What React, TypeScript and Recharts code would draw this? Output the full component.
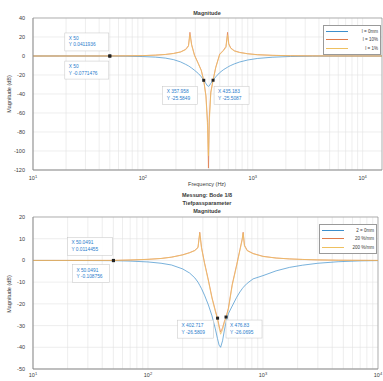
import {
  LineChart,
  Line,
  XAxis,
  YAxis,
  CartesianGrid,
  ReferenceDot,
  ReferenceArea,
  Legend,
} from "recharts";

const FONT = '"Liberation Sans", Arial, sans-serif';
const INK = "#3a3a3a";
const BLUE = "#3d8fcc";
const ORANGE = "#e07a4a";
const YELLOW = "#eec060";
const TIP_TEXT = "#2a7ccc";
const COLORS = [BLUE, ORANGE, YELLOW];

// ── top plot data ──
const TOP_FREQ = [
  10, 20, 30, 50, 70, 100, 130, 160, 190, 220, 245, 260, 268, 278, 295, 320, 340, 358, 375, 388, 395,
  402, 415, 435, 460, 500, 540, 570, 590, 605, 630, 680, 760, 900, 1100, 1500, 2200, 3500, 6000, 10000,
  15000,
];
const TOP_BLUE = [
  0, -0.01, -0.03, -0.077, -0.2, -0.6, -1.2, -2.2, -3.8, -6.2, -8.8, -10.4, -11.4, -12.7, -15, -18.5,
  -21.8, -25.6, -29, -31.5, -32, -31.4, -28.8, -25.5, -22, -17.5, -14.5, -12.8, -11.8, -11, -10, -8.3,
  -6.3, -4.2, -2.6, -1.3, -0.5, -0.15, -0.04, 0, 0,
];
const TOP_ORANGE = [
  0, 0.01, 0.02, 0.041, 0.15, 0.4, 0.9, 1.6, 2.7, 4.3, 7, 11, 25, 12, 1, -8, -15, -25.6, -42, -70, -118,
  -65, -38, -25.5, -12, 2, 6, 10, 25, 13, 8.5, 5.5, 3.8, 2.4, 1.4, 0.7, 0.3, 0.1, 0.03, 0, 0,
];
const TOP_YELLOW = [
  0, 0.01, 0.02, 0.04, 0.15, 0.4, 0.9, 1.6, 2.6, 4.1, 6.6, 10, 22, 11, 0.5, -8.5, -15.5, -26, -43, -75,
  -105, -70, -39, -26, -12.5, 1.5, 5.5, 9, 22, 12, 8, 5.2, 3.6, 2.3, 1.3, 0.7, 0.3, 0.1, 0.03, 0, 0,
];
const TOP_NAMES = ["l = 0mm", "l = 10%", "l = 1%"];
const TOP_Y_TICKS = [-120, -100, -80, -60, -40, -20, 0, 20, 40];

// ── bottom plot data ──
const BOT_FREQ = [
  10, 20, 30, 50, 70, 100, 130, 160, 200, 230, 255, 272, 282, 292, 310, 335, 360, 385, 402, 415, 428,
  445, 462, 477, 500, 540, 590, 630, 660, 672, 690, 730, 820, 1000, 1300, 1700, 2200, 3000, 4500, 7000,
  10000,
];
const BOT_BLUE = [
  0, -0.02, -0.05, -0.109, -0.3, -0.7, -1.3, -2.1, -3.9, -5.8, -8, -10, -11.5, -13, -16, -20.5, -25.5,
  -31.5, -36, -39, -40, -37, -32, -28.5, -24.5, -21, -17, -14.5, -13, -12.5, -11.8, -10.5, -8.5, -7,
  -4.8, -3.2, -2.2, -1.3, -0.6, -0.2, -0.08,
];
const BOT_ORANGE = [
  0, 0, 0.005, 0.011, 0.2, 0.5, 0.9, 1.5, 2.6, 3.6, 4.6, 6, 13, 6, -1, -9, -17, -23, -26.6, -30, -33, -31,
  -28, -26.1, -22, -11, -2, 5, 10, 13, 7, 4.6, 3.2, 1.9, 1.1, 0.7, 0.45, 0.25, 0.1, 0.04, 0,
];
const BOT_YELLOW = [
  0, 0, 0.005, 0.01, 0.2, 0.5, 0.9, 1.5, 2.5, 3.5, 4.5, 5.8, 12.5, 5.6, -1.4, -9.5, -17.5, -23.5, -27,
  -31, -34, -32, -28.5, -26.4, -22.5, -11.5, -2.5, 4.6, 9.5, 12.5, 6.6, 4.4, 3.1, 1.8, 1.1, 0.7, 0.45,
  0.25, 0.1, 0.04, 0,
];
const BOT_NAMES = ["2 = 0mm", "20 %/mm", "200 %/mm"];
const BOT_Y_TICKS = [-50, -40, -30, -20, -10, 0, 10, 20];

// ── data tips ──
const TOP_TIPS = [
  { f: 50, v: 0.041, lines: ["X 50", "Y 0.0411936"] },
  { f: 50, v: -0.077, lines: ["X 50", "Y -0.0771476"] },
  { f: 357.958, v: -25.5849, lines: ["X 357.958", "Y -25.5849"] },
  { f: 435.183, v: -25.5087, lines: ["X 435.183", "Y -25.5087"] },
];
const BOT_TIPS = [
  { f: 50.0491, v: 0.0114, lines: ["X 50.0491", "Y 0.0114455"] },
  { f: 50.0491, v: -0.109, lines: ["X 50.0491", "Y -0.108756"] },
  { f: 402.717, v: -26.5809, lines: ["X 402.717", "Y -26.5809"] },
  { f: 476.83, v: -26.0695, lines: ["X 476.83", "Y -26.0695"] },
];

const DECADES = [10, 100, 1000, 10000];
const MINOR = [1, 2, 3, 4, 5, 6, 7, 8, 9];
const logTicks = (max: number) =>
  DECADES.flatMap((d) => MINOR.map((m) => m * d)).filter((v) => v <= max);

const topRows = TOP_FREQ.map((f, i) => ({ f, a: TOP_BLUE[i], b: TOP_ORANGE[i], c: TOP_YELLOW[i] }));
const botRows = BOT_FREQ.map((f, i) => ({ f, a: BOT_BLUE[i], b: BOT_ORANGE[i], c: BOT_YELLOW[i] }));

function LogTick({ x, y, payload, off }: any) {
  const lg = Math.log10(payload.value);
  const e = Math.round(lg);
  if (Math.abs(lg - e) > 1e-6) return <g />;
  return (
    <text x={x} y={y + off} textAnchor="middle" fontSize={5.5} fill={INK} fontFamily={FONT}>
      10
      <tspan dy={-2.5} fontSize={4}>
        {e}
      </tspan>
    </text>
  );
}

function MatlabLegend({ names }: { names: string[] }) {
  return (
    <div
      style={{
        background: "#fff",
        border: "0.6px solid #9a9a9a",
        padding: "1px 2px",
        fontSize: 4.5,
        fontFamily: FONT,
        color: INK,
        width: 52,
      }}
    >
      {names.map((n, i) => (
        <div key={n} style={{ display: "flex", alignItems: "center", height: 8.5 }}>
          <span style={{ width: 22, height: 1, background: COLORS[i], marginRight: 3 }} />
          <span style={{ marginLeft: "auto" }}>{n}</span>
        </div>
      ))}
    </div>
  );
}

// data tip box drawn next to the marker
function tipShape(lines: string[], dx: number, dy: number, w: number) {
  return (props: any) => {
    const { cx, cy } = props;
    return (
      <g>
        <rect
          x={cx + dx}
          y={cy + dy}
          width={w}
          height={18}
          fill="#fff"
          fillOpacity={0.92}
          stroke="#c4c4c4"
          strokeWidth={0.5}
        />
        {lines.map((t, i) => (
          <text
            key={i}
            x={cx + dx + 4}
            y={cy + dy + 7 + i * 6.5}
            fontSize={4.8}
            fill={TIP_TEXT}
            fontFamily={FONT}
          >
            {t}
          </text>
        ))}
        <rect x={cx - 1.5} y={cy - 1.5} width={3} height={3} fill="#222" />
      </g>
    );
  };
}

const TOP_TIP_POS = [
  [-45, -23, 44],
  [-45, 5, 44],
  [-41, 6, 35],
  [1, 6, 35],
];
const BOT_TIP_POS = [
  [-46, -23, 45],
  [-41, 4, 37],
  [-40, 2, 36],
  [0, 3, 36],
];

function YLabel({ top }: { top: number }) {
  return (
    <div
      style={{
        position: "absolute",
        left: 9,
        top,
        transform: "translate(-50%, -50%) rotate(-90deg)",
        fontSize: 5.5,
        whiteSpace: "nowrap",
        color: INK,
        fontFamily: FONT,
      }}
    >
      Magnitude (dB)
    </div>
  );
}

function Title({ top, text }: { top: number; text: string }) {
  return (
    <div
      style={{
        position: "absolute",
        left: 207,
        top,
        transform: "translate(-50%, -50%)",
        fontSize: 5.5,
        fontWeight: 700,
        whiteSpace: "nowrap",
        color: INK,
        fontFamily: FONT,
      }}
    >
      {text}
    </div>
  );
}

function BodePanel({
  rows,
  names,
  yTicks,
  xMax,
  tips,
  tipPos,
  width,
  height,
  margin,
  xHeight,
  tickOff,
}: any) {
  const yMin = yTicks[0];
  const yMax = yTicks[yTicks.length - 1];
  return (
    <LineChart width={width} height={height} data={rows} margin={margin}>
      <CartesianGrid stroke="#e2e2e2" strokeWidth={0.6} />
      <XAxis
        dataKey="f"
        type="number"
        scale="log"
        domain={[10, xMax]}
        allowDataOverflow
        ticks={logTicks(xMax)}
        interval={0}
        tick={<LogTick off={tickOff} />}
        tickLine={false}
        axisLine={{ stroke: "#8a8a8a", strokeWidth: 0.6 }}
        height={xHeight}
      />
      <YAxis
        type="number"
        domain={[yMin, yMax]}
        allowDataOverflow
        ticks={yTicks}
        interval={0}
        tickLine={false}
        axisLine={{ stroke: "#8a8a8a", strokeWidth: 0.6 }}
        tick={{ fontSize: 5.5, fill: INK, fontFamily: FONT }}
        tickMargin={2}
        width={33}
      />
      <ReferenceArea
        x1={10}
        x2={xMax}
        y1={yMin}
        y2={yMax}
        fill="none"
        stroke="#8a8a8a"
        strokeWidth={0.6}
      />
      <Legend
        layout="vertical"
        align="center"
        verticalAlign="middle"
        wrapperStyle={{ top: margin.top + 7, right: margin.right + 1 }}
        content={() => <MatlabLegend names={names} />}
      />
      <Line dataKey="a" name={names[0]} stroke={BLUE} strokeWidth={0.7} dot={false} isAnimationActive={false} />
      <Line dataKey="b" name={names[1]} stroke={ORANGE} strokeWidth={0.7} dot={false} isAnimationActive={false} />
      <Line dataKey="c" name={names[2]} stroke={YELLOW} strokeWidth={0.7} dot={false} isAnimationActive={false} />
      {tips.map((t: any, i: number) => (
        <ReferenceDot
          key={i}
          x={t.f}
          y={t.v}
          r={1.5}
          shape={tipShape(t.lines, tipPos[i][0], tipPos[i][1], tipPos[i][2])}
        />
      ))}
    </LineChart>
  );
}

export default function App() {
  return (
    <div style={{ position: "relative", width: 383, height: 381, background: "#fff", overflow: "hidden" }}>
      <style>{"body{margin:0}"}</style>
      <div style={{ position: "absolute", left: 0, top: 0 }}>
        <BodePanel
          rows={topRows}
          names={TOP_NAMES}
          yTicks={TOP_Y_TICKS}
          xMax={15000}
          tips={TOP_TIPS}
          tipPos={TOP_TIP_POS}
          width={383}
          height={190}
          margin={{ top: 18, right: 1, bottom: 0, left: 0 }}
          xHeight={20}
          tickOff={2}
        />
      </div>
      <div style={{ position: "absolute", left: 0, top: 190 }}>
        <BodePanel
          rows={botRows}
          names={BOT_NAMES}
          yTicks={BOT_Y_TICKS}
          xMax={10000}
          tips={BOT_TIPS}
          tipPos={BOT_TIP_POS}
          width={383}
          height={191}
          margin={{ top: 27, right: 5, bottom: 0, left: 0 }}
          xHeight={12}
          tickOff={0}
        />
      </div>
      <Title top={13} text="Magnitude" />
      <div
        style={{
          position: "absolute",
          left: 207,
          top: 184,
          transform: "translate(-50%, -50%)",
          fontSize: 5.5,
          color: INK,
          fontFamily: FONT,
          whiteSpace: "nowrap",
        }}
      >
        Frequency (Hz)
      </div>
      <YLabel top={94} />
      <Title top={195} text="Messung: Bode 1/8" />
      <Title top={203} text="Tiefpassparameter" />
      <Title top={211} text="Magnitude" />
      <YLabel top={294} />
    </div>
  );
}
